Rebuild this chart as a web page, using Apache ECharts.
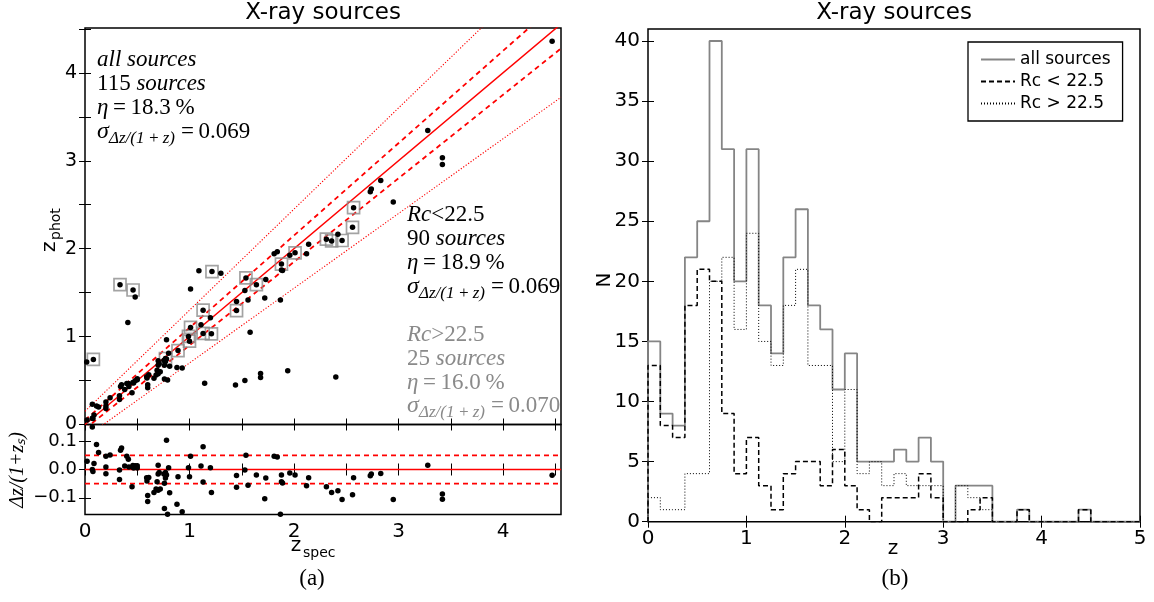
<!DOCTYPE html>
<html><head><meta charset="utf-8">
<script src="https://cdn.jsdelivr.net/npm/echarts@6/dist/echarts.min.js"></script>
<style>html,body{margin:0;padding:0;background:#fff}#c{width:1154px;height:602px}</style>
</head><body><div id="c"></div>
<script>
// ---------- Panel (a): photometric vs spectroscopic redshift ----------
const zSpecAll = [0.02,0.07,0.11,0.13,0.086,0.07,0.076,0.20,0.20,0.20,0.24,0.33,0.33,0.34,0.35,0.38,0.40,0.415,0.42,0.45,
  0.458,0.465,0.48,0.50,0.50,0.59,0.593,0.60,0.60,0.61,0.66,0.68,0.69,0.70,0.70,0.70,0.71,0.72,0.755,0.76,
  0.76,0.77,0.77,0.78,0.78,0.79,0.80,0.81,0.88,0.89,0.93,0.99,1.00,1.01,1.11,1.13,1.13,1.20,1.21,1.45,
  1.45,1.53,1.54,1.56,1.64,1.72,1.73,1.81,1.84,1.87,1.88,1.88,1.89,1.96,2.01,2.12,2.14,2.31,2.36,2.42,
  2.46,2.56,2.57,2.73,2.74,2.83,2.95,3.28,3.42,3.42,4.47,
  0.016,0.08,0.335,0.46,0.48,0.41,1.09,1.215,1.30,1.01,1.145,1.44,1.53,1.68,1.68,1.94,2.40,1.58];
const zPhotAll = [0.05,0.23,0.21,0.20,0.109,0.07,0.068,0.256,0.211,0.182,0.303,0.283,0.327,0.431,0.453,0.397,0.466,0.466,0.433,0.362,
  0.478,0.472,0.499,0.52,0.508,0.544,0.528,0.453,0.419,0.565,0.526,0.564,0.617,0.576,0.673,0.726,0.691,0.601,0.727,0.674,
  0.517,0.751,0.717,0.746,0.963,0.507,0.811,0.662,0.649,0.841,0.642,1.002,0.948,1.104,1.135,1.30,1.036,1.213,1.031,1.399,
  1.296,1.525,1.667,1.417,1.59,1.44,1.648,1.942,1.965,1.417,1.825,1.756,1.751,1.924,1.953,1.942,2.049,2.108,2.088,2.164,
  2.093,2.243,2.466,2.648,2.68,2.776,2.531,3.344,3.035,2.956,4.36,
  0.71,0.74,1.59,1.53,1.45,1.16,1.75,1.74,1.72,1.54,0.47,0.45,0.50,0.58,0.535,0.61,0.54,1.05];
// faint (Rc > 22.5) sources, marked with squares
const zSpecFaint = [0.08,0.335,0.46,1.215,1.54,1.64,1.45,1.13,1.01,0.99,1.00,1.13,1.21,1.88,2.01,2.31,2.36,2.46,2.57,2.56,0.89,0.77];
const zPhotFaint = [0.74,1.59,1.53,1.74,1.667,1.59,1.296,1.30,1.104,1.002,0.948,1.036,1.031,1.825,1.953,2.108,2.088,2.093,2.466,2.243,0.841,0.751];
// residual panel: dz/(1+zs)
const zSpecRes = [0.02,0.07,0.11,0.13,0.086,0.07,0.076,0.20,0.20,0.20,0.24,0.33,0.33,0.34,0.35,0.38,0.40,0.415,0.42,0.45,
  0.458,0.465,0.48,0.50,0.50,0.59,0.593,0.60,0.60,0.61,0.66,0.68,0.69,0.70,0.70,0.70,0.71,0.72,0.755,0.76,
  0.76,0.77,0.77,0.78,0.78,0.79,0.80,0.81,0.88,0.89,0.93,0.99,1.00,1.01,1.11,1.13,1.13,1.20,1.21,1.45,
  1.45,1.53,1.54,1.56,1.64,1.72,1.73,1.81,1.84,1.87,1.88,1.88,1.89,1.96,2.01,2.12,2.14,2.31,2.36,2.42,
  2.46,2.56,2.57,2.73,2.74,2.83,2.95,3.28,3.42,3.42,4.47];
const dzRes = [0.029,0.15,0.088,0.06,0.021,0.0,-0.007,0.047,0.009,-0.015,0.051,-0.035,-0.002,0.068,0.076,0.012,0.047,0.036,0.009,-0.061,
  0.014,0.005,0.013,0.013,0.005,-0.029,-0.041,-0.092,-0.113,-0.028,-0.081,-0.069,-0.043,-0.073,-0.016,0.015,-0.011,-0.069,-0.016,-0.049,
  -0.138,-0.011,-0.03,-0.019,0.103,-0.158,0.006,-0.082,-0.123,-0.026,-0.149,0.006,-0.026,0.047,0.012,0.08,-0.044,0.006,-0.081,-0.021,
  -0.063,-0.002,0.05,-0.056,-0.019,-0.103,-0.03,0.047,0.044,-0.158,-0.019,-0.043,-0.048,-0.012,-0.019,-0.057,-0.029,-0.061,-0.081,-0.075,
  -0.106,-0.089,-0.029,-0.022,-0.016,-0.014,-0.106,0.015,-0.087,-0.105,-0.02];
// reference lines: zphot = zspec + k(1+zspec)
const outlierLimits = [0.15, -0.15];
const sigmaLimits = [0.05, -0.05];

// ---------- Panel (b): photometric redshift histograms ----------
const binStart = 0, binWidth = 0.125;
const countsAll = [15,9,8,22,25,40,31,20,31,18,14,22,26,18,16,11,14,5,5,5,6,5,7,5,0,3,3,3,0,0,1,0,0,0,0,1,0,0,0,0];
const countsBright = [13,8,7,18,21,20,9,4,7,3,1,4,5,5,3,6,3,1,0,2,2,2,4,2,0,0,1,2,0,0,1,0,0,0,0,1,0,0,0,0];
const countsFaint = [2,1,1,4,4,20,22,16,24,15,13,18,21,13,13,5,11,4,5,3,4,3,3,3,0,3,2,1,0,0,0,0,0,0,0,0,0,0,0,0];
const histNames = ['all sources', 'Rc < 22.5', 'Rc > 22.5'];

const xTicksA = [0,0.5,1,1.5,2,2.5,3,3.5,4,4.5];
const xLabelsA = [0,1,2,3,4];
const yTicksA = [0,0.5,1,1.5,2,2.5,3,3.5,4,4.5];
const yLabelsA = [0,1,2,3,4];
const yTicksRes = [-0.1,0,0.1];
const xTicksB = [0,1,2,3,4,5];
const yTicksB = [0,5,10,15,20,25,30,35,40];

const X_MAX_A = 4.555, Y_MAX_A = 4.51, RES_LIM = 0.159;

function stepData(counts){
  const pts=[[binStart,0]];
  counts.forEach((c,i)=>{const x0=binStart+i*binWidth;pts.push([x0,c],[x0+binWidth,c]);});
  pts.push([binStart+counts.length*binWidth,0]);
  return pts;
}
const zip=(a,b)=>a.map((v,i)=>[v,b[i]]);
const lineThrough=k=>[[0,k],[X_MAX_A,X_MAX_A+k*(1+X_MAX_A)]];

const SANS='DejaVu Sans', SERIF='Liberation Serif';
function axis(gi,pos,opt){
  return {gridIndex:gi,type:'value',position:pos,min:opt.min,max:opt.max,
    axisLine:{show:false},splitLine:{show:false},
    axisTick:{show:true,inside:true,length:6,customValues:opt.ticks,lineStyle:{color:'#000',width:1}},
    axisLabel:{show:!!opt.labels,customValues:opt.labels,color:'#000',fontFamily:SANS,fontSize:opt.fs||19,margin:opt.margin||8,
      formatter:opt.fmt||(v=>String(v))}};
}
const xAxis=[
  axis(0,'bottom',{min:0,max:X_MAX_A,ticks:xTicksA}),
  axis(0,'top',{min:0,max:X_MAX_A,ticks:xTicksA}),
  axis(1,'bottom',{min:0,max:X_MAX_A,ticks:xTicksA,labels:xLabelsA,fs:20,margin:7}),
  axis(1,'top',{min:0,max:X_MAX_A,ticks:xTicksA}),
  axis(2,'bottom',{min:0,max:5,ticks:xTicksB,labels:xTicksB,fs:20,margin:7}),
  axis(2,'top',{min:0,max:5,ticks:xTicksB}),
];
const yAxis=[
  axis(0,'left',{min:0,max:Y_MAX_A,ticks:yTicksA,labels:yLabelsA,fs:19,margin:8}),
  axis(0,'right',{min:0,max:Y_MAX_A,ticks:yTicksA}),
  axis(1,'left',{min:-RES_LIM,max:RES_LIM,ticks:yTicksRes,labels:yTicksRes,fs:18,margin:8,fmt:v=>v.toFixed(1).replace('-','\u2212')}),
  axis(1,'right',{min:-RES_LIM,max:RES_LIM,ticks:yTicksRes}),
  axis(2,'left',{min:0,max:41,ticks:yTicksB,labels:yTicksB,fs:20,margin:8}),
  axis(2,'right',{min:0,max:41,ticks:yTicksB}),
];
const RED='#ff0000';
const series=[];
outlierLimits.forEach(k=>series.push({type:'line',xAxisIndex:0,yAxisIndex:0,data:lineThrough(k),symbol:'none',silent:true,
  lineStyle:{color:RED,width:1.1,type:[1.2,1.8]},z:2}));
sigmaLimits.forEach(k=>series.push({type:'line',xAxisIndex:0,yAxisIndex:0,data:lineThrough(k),symbol:'none',silent:true,
  lineStyle:{color:RED,width:1.8,type:[5,4]},z:2}));
series.push({type:'line',xAxisIndex:0,yAxisIndex:0,data:lineThrough(0),symbol:'none',silent:true,lineStyle:{color:RED,width:1.5},z:2});
series.push({type:'scatter',xAxisIndex:0,yAxisIndex:0,data:zip(zSpecFaint,zPhotFaint),symbol:'rect',symbolSize:12,
  itemStyle:{color:'rgba(0,0,0,0)',borderColor:'#8c8c8c',borderWidth:1.7},z:3});
series.push({type:'scatter',xAxisIndex:0,yAxisIndex:0,data:zip(zSpecAll,zPhotAll),symbolSize:5.5,itemStyle:{color:'#000',opacity:1},z:4});
// residual panel
sigmaLimits.forEach(k=>series.push({type:'line',xAxisIndex:2,yAxisIndex:2,data:[[0,k],[X_MAX_A,k]],symbol:'none',silent:true,
  lineStyle:{color:RED,width:1.6,type:[5,4]},z:2}));
series.push({type:'line',xAxisIndex:2,yAxisIndex:2,data:[[0,0],[X_MAX_A,0]],symbol:'none',silent:true,lineStyle:{color:RED,width:1.5},z:2});
series.push({type:'scatter',xAxisIndex:2,yAxisIndex:2,data:zip(zSpecRes,dzRes),symbolSize:5.5,itemStyle:{color:'#000',opacity:1},z:4});
// histograms
series.push({name:histNames[0],type:'line',xAxisIndex:4,yAxisIndex:4,data:stepData(countsAll),symbol:'none',
  lineStyle:{color:'#858585',width:1.8},itemStyle:{color:'#858585'},z:2});
series.push({name:histNames[1],type:'line',xAxisIndex:4,yAxisIndex:4,data:stepData(countsBright),symbol:'none',
  lineStyle:{color:'#000',width:1.5,type:[5,3]},itemStyle:{color:'#000'},z:3});
series.push({name:histNames[2],type:'line',xAxisIndex:4,yAxisIndex:4,data:stepData(countsFaint),symbol:'none',
  lineStyle:{color:'#000',width:1,type:[1,2]},itemStyle:{color:'#000'},z:4});

function T(x,y,text,o){o=o||{};return {type:'text',x:x,y:y,rotation:o.rot||0,z:10,silent:true,style:{text:text,fill:o.fill||'#000',
  font:(o.italic?'italic ':'')+(o.fs||22)+'px "'+(o.ff||SERIF)+'"',textAlign:o.align||'left',textVerticalAlign:'middle',rich:o.rich}};}
function richSerif(fill,fs){return {i:{fontStyle:'italic',fontFamily:SERIF,fontSize:fs,fill:fill},n:{fontFamily:SERIF,fontSize:fs,fill:fill}};}
function statBlock(x,ys,fill,head,nsrc,eta,sig){
  const r=richSerif(fill,23);
  return [
    T(x,ys[0],head,{fill:fill,rich:r}),
    T(x,ys[1],'{n|'+nsrc+' }{i|sources}',{fill:fill,rich:r}),
    T(x,ys[2],'{i|\u03b7}{n|\u2009=\u2009'+eta+'\u2009%}',{fill:fill,rich:r}),
    T(x,ys[3],'\u03c3',{fill:fill,italic:true,fs:24}),
    T(x+12,ys[3]+7,'\u0394z/(1\u2009+\u2009z)',{fill:fill,italic:true,fs:17}),
    T(x+84,ys[3],'=\u20090.0'+sig,{fill:fill,fs:23}),
  ];
}
const GREY='#8a8a8a';
const graphic=[
  T(323,13,'X-ray sources',{ff:SANS,fs:23,align:'center'}),
  T(894,13,'X-ray sources',{ff:SANS,fs:23,align:'center'}),
  ...statBlock(97,[60,84,108,132],'#000','{i|all sources}','115','18.3','69'),
  ...statBlock(407,[215,239,263,287],'#000','{i|Rc}{n|<22.5}','90','18.9','69'),
  ...statBlock(407,[335,359,383,406],GREY,'{i|Rc}{n|>22.5}','25','16.0','70'),
  {type:'group',x:50,y:236,rotation:Math.PI/2,children:[
    T(-16,0,'z',{ff:SANS,fs:20}),T(-4,6,'phot',{ff:SANS,fs:14})]},
  T(18,470,'\u0394z/(1+z\u209b)',{italic:true,fs:20,rot:Math.PI/2,align:'center'}),
  T(296,546,'z',{ff:SANS,fs:20,align:'center'}),
  T(303,553,'spec',{ff:SANS,fs:14}),
  T(605,280,'N',{ff:SANS,fs:20,rot:Math.PI/2,align:'center'}),
  T(893,549,'z',{ff:SANS,fs:20,align:'center'}),
  T(312,579,'(a)',{fs:23,align:'center'}),
  T(895,579,'(b)',{fs:23,align:'center'}),
];
const chart=echarts.init(document.getElementById('c'),null,{renderer:'canvas'});
chart.setOption({
  animation:false,
  grid:[
    {left:85,top:28,width:476,height:396.5,show:true,borderColor:'#000',borderWidth:1.5,backgroundColor:'transparent'},
    {left:85,top:424.5,width:476,height:90,show:true,borderColor:'#000',borderWidth:1.5,backgroundColor:'transparent'},
    {left:648,top:29,width:492,height:492.7,show:true,borderColor:'#000',borderWidth:1.5,backgroundColor:'transparent'},
  ],
  xAxis:xAxis,yAxis:yAxis,series:series,graphic:graphic,
  legend:{data:histNames,left:968,top:42,orient:'vertical',itemWidth:34,itemHeight:12,itemGap:5,
    padding:[9,12,9,12],borderColor:'#000',borderWidth:1.3,backgroundColor:'#fff',
    itemStyle:{opacity:0},
    textStyle:{fontFamily:SANS,fontSize:17,color:'#000'}}
});
</script></body></html>
